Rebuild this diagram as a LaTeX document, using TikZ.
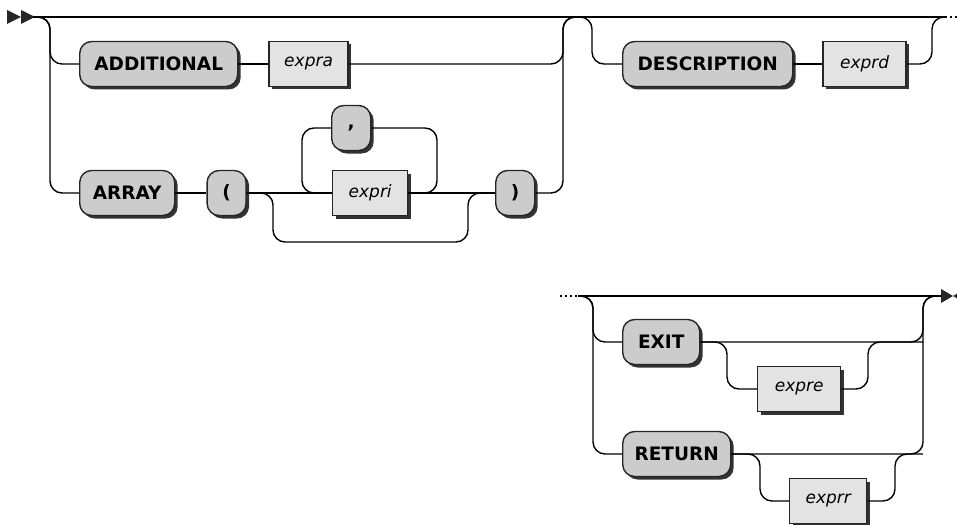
\documentclass[tikz,border=0pt]{standalone}
\usepackage{fontspec}
\setmainfont{DejaVu Sans}
\usetikzlibrary{positioning,shadows}

\begin{document}
\begin{tikzpicture}[
  x=1pt, y=-1pt,
  line width=1.4pt,
  term/.style={draw=black!85, fill=black!20, rounded corners=12pt, minimum height=45pt, inner xsep=0pt,
    font=\fontsize{18.5}{22}\selectfont\bfseries,
    drop shadow={shadow xshift=3pt, shadow yshift=-3pt, opacity=1, fill=black!80}},
  nterm/.style={draw=black!85, fill=black!11, minimum height=45pt, inner xsep=0pt,
    font=\fontsize{17}{20}\selectfont\itshape,
    drop shadow={shadow xshift=3pt, shadow yshift=-3pt, opacity=1, fill=black!80}},
  rr/.style={rounded corners=12pt},
  dots/.style={dash pattern=on 2pt off 3pt}
]
\useasboundingbox (0,0) rectangle (957,524);

% first line
\node[term, minimum width=158pt, anchor=west] (add) at (79,64) {ADDITIONAL};
\node[nterm, minimum width=79pt, right=30pt of add] (exa) {expra};
\node[term, minimum width=95pt, anchor=west] (arr) at (79,193) {ARRAY};
\node[term, minimum width=39pt, right=31pt of arr] (lpar) {(};
\node[nterm, minimum width=75pt, anchor=west] (exi) at (332,193) {expri};
\node[term, minimum width=39pt, anchor=west] (com) at (331,128) {,};
\node[term, minimum width=39pt, anchor=west] (rpar) at (495,193) {)};
\node[term, minimum width=170pt, anchor=west] (desc) at (622,64) {DESCRIPTION};
\node[nterm, minimum width=83pt, right=29pt of desc] (exd) {exprd};

\coordinate (st) at (33,17);
\coordinate (g1l) at (50,17);
\coordinate (g1r) at (563,17);
\coordinate (g2l) at (592,17);
\coordinate (g2r) at (932,17);
\coordinate (e1) at (945,17);
\coordinate (e1d) at (957,17);
\coordinate (lpl) at (302,128);
\coordinate (lpr) at (437,128);
\coordinate (byl) at (273,242);
\coordinate (byr) at (468,242);

\fill[black!85] (7,10) -- (21,17) -- (7,24) -- cycle;
\fill[black!85] (21,10) -- (35,17) -- (21,24) -- cycle;
\draw (st) -- (e1);
\draw[dots] (e1) -- (e1d);
\draw[rr] (st) -| (g1l |- add.west) -- (add.west);
\draw[rr] (st) -| (g1l |- arr.west) -- (arr.west);
\draw (add) -- (exa);
\draw[rr] (exa.east) -| (g1r) -- (g2l);
\draw (arr) -- (lpar);
\draw (lpar) -- (exi);
\draw[rr] (exi.east) -| (lpr) -- (com.east);
\draw[rr] (com.west) -| (lpl |- exi.west) -- (exi.west);
\draw[rr] (lpar.east) -| (byl) -- (byr) |- (rpar.west);
\draw (exi) -- (rpar);
\draw[rr] (rpar.east) -| (g1r) -- (g2l);
\draw[rr] (g1r) -- (g2l) |- (desc.west);
\draw (desc) -- (exd);
\draw[rr] (exd.east) -| (g2r) -- (e1);

% second line
\node[term, minimum width=77pt, anchor=west] (exit) at (622,342) {EXIT};
\node[nterm, minimum width=83pt, anchor=west] (exe) at (757,389) {expre};
\node[term, minimum width=108pt, anchor=west] (ret) at (622,454) {RETURN};
\node[nterm, minimum width=77pt, anchor=west] (exr) at (789,501) {exprr};

\coordinate (st2d) at (560,296);
\coordinate (st2) at (578,296);
\coordinate (g5l) at (593,296);
\coordinate (g5r) at (923,296);
\coordinate (fin) at (941,296);
\coordinate (g6l) at (727,342);
\coordinate (g6r) at (868,342);
\coordinate (g7l) at (760,454);
\coordinate (g7r) at (895,454);

\draw[dots] (st2d) -- (st2);
\draw (st2) -- (fin);
\fill[black!85] (941,289) -- (953,296) -- (941,303) -- cycle;
\fill[black!85] (965,289) -- (953,296) -- (965,303) -- cycle;
\draw[rr] (st2) -| (g5l |- exit.west) -- (exit.west);
\draw[rr] (st2) -| (g5l |- ret.west) -- (ret.west);
\draw[rr] (exit.east) -| (g5r) -- (fin);
\draw[rr] (exit.east) -| (g6l |- exe.west) -- (exe.west);
\draw[rr] (exe.east) -| (g6r) -- (g5r |- g6r);
\draw[rr] (ret.east) -| (g5r) -- (fin);
\draw[rr] (ret.east) -| (g7l |- exr.west) -- (exr.west);
\draw[rr] (exr.east) -| (g7r) -- (g5r |- g7r);
\end{tikzpicture}
\end{document}
